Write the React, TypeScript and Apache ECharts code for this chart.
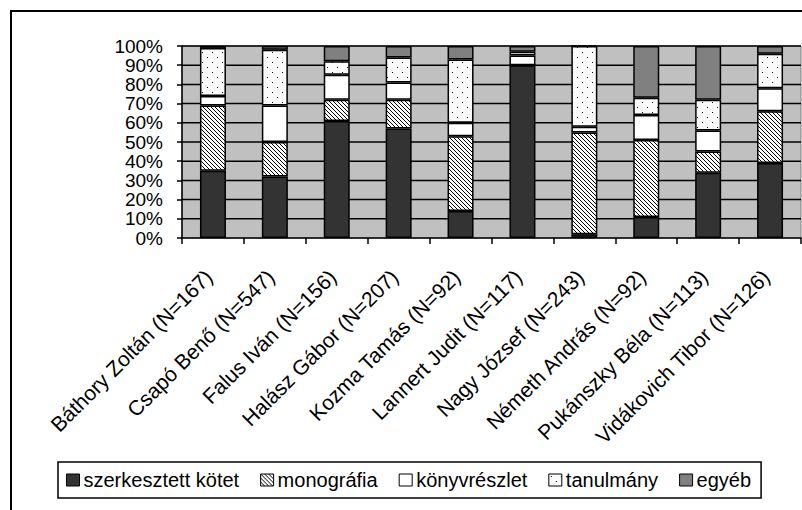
import React, { useEffect, useRef } from "react";
import * as echarts from "echarts";

const categories = [
  "Báthory Zoltán (N=167)",
  "Csapó Benő (N=547)",
  "Falus Iván (N=156)",
  "Halász Gábor (N=207)",
  "Kozma Tamás (N=92)",
  "Lannert Judit (N=117)",
  "Nagy József (N=243)",
  "Németh András (N=92)",
  "Pukánszky Béla (N=113)",
  "Vidákovich Tibor (N=126)",
];

const szerkesztett = [35, 32, 61, 57, 14, 90, 2, 11, 34, 39];
const monografia = [34, 18, 11, 15, 39, 0, 53, 40, 11, 27];
const konyvreszlet = [5, 19, 13, 9, 7, 5, 3, 13, 11, 12];
const tanulmany = [25, 29, 7, 13, 33, 2, 42, 9, 16, 18];
const egyeb = [1, 2, 8, 6, 7, 3, 0, 27, 28, 4];

const yTicks = [0, 10, 20, 30, 40, 50, 60, 70, 80, 90, 100];

const seriesNames = ["szerkesztett kötet", "monográfia", "könyvrészlet", "tanulmány", "egyéb"];

const GRID = { left: 182, top: 46, width: 619, height: 192 };

function hatchCanvas() {
  const c = document.createElement("canvas");
  c.width = 4;
  c.height = 4;
  const g = c.getContext("2d")!;
  g.fillStyle = "#ffffff";
  g.fillRect(0, 0, 4, 4);
  g.fillStyle = "#000000";
  for (let i = 0; i < 4; i++) g.fillRect(i, i, 1, 1);
  return c;
}

function dotCanvas() {
  const c = document.createElement("canvas");
  c.width = 10;
  c.height = 10;
  const g = c.getContext("2d")!;
  g.fillStyle = "#fafafa";
  g.fillRect(0, 0, 10, 10);
  g.fillStyle = "#000000";
  g.fillRect(2, 2, 1, 1);
  g.fillRect(7, 7, 1, 1);
  return c;
}

export default function App() {
  const ref = useRef<HTMLDivElement>(null);
  useEffect(() => {
    const chart = echarts.init(ref.current!, null, { renderer: "svg" });
    const font = "'Liberation Sans', Arial, sans-serif";
    const hatch = hatchCanvas();
    const dots = dotCanvas();
    const defs: { name: string; data: number[]; color: any }[] = [
      { name: seriesNames[0], data: szerkesztett, color: "#333333" },
      {
        name: seriesNames[1],
        data: monografia,
        color: { image: hatch, repeat: "repeat", imageWidth: 4, imageHeight: 4 },
      },
      { name: seriesNames[2], data: konyvreszlet, color: "#ffffff" },
      {
        name: seriesNames[3],
        data: tanulmany,
        color: { image: dots, repeat: "repeat", imageWidth: 10, imageHeight: 10 },
      },
      { name: seriesNames[4], data: egyeb, color: "#808080" },
    ];
    const barSeries = defs.map((d) => ({
      name: d.name,
      type: "bar",
      stack: "total",
      barWidth: 26,
      z: 5,
      data: d.data,
      itemStyle: {
        color: d.color,
        borderColor: "#000",
        borderWidth: 1.5,
      },
    }));
    chart.setOption({
      animation: false,
      textStyle: { fontFamily: font, color: "#000" },
      graphic: [
        {
          type: "rect",
          shape: { x: 11, y: 11, width: 900, height: 600 },
          style: { fill: "none", stroke: "#000", lineWidth: 2 },
          silent: true,
          z: -10,
        },
      ],
      grid: { ...GRID, show: false },
      legend: {
        data: seriesNames,
        left: 58,
        top: 462,
        padding: [8, 10, 8, 8],
        borderColor: "#000",
        borderWidth: 1.5,
        itemWidth: 13,
        itemHeight: 12,
        itemGap: 21,
        icon: "rect",
        itemStyle: { borderColor: "#000", borderWidth: 1 },
        textStyle: { fontFamily: font, fontSize: 20, color: "#000", padding: [0, 0, 0, -1] },
      },
      xAxis: {
        type: "category",
        data: categories,
        z: 8,
        axisLine: { lineStyle: { color: "#000", width: 1.5 } },
        axisTick: { show: true, length: 6, lineStyle: { color: "#000", width: 1.5 } },
        axisLabel: {
          rotate: 45,
          interval: 0,
          margin: 31,
          padding: [0, 6, 0, 0],
          fontSize: 21,
          fontFamily: font,
          color: "#000",
        },
      },
      yAxis: {
        type: "value",
        min: 0,
        max: 100,
        interval: 10,
        z: 8,
        axisLine: { show: true, lineStyle: { color: "#000", width: 1.5 } },
        axisTick: { show: true, length: 5, lineStyle: { color: "#000", width: 1.5 } },
        axisLabel: {
          formatter: "{value}%",
          margin: 19,
          fontSize: 19,
          lineHeight: 17,
          showMinLabel: true,
          showMaxLabel: true,
          hideOverlap: false,
          fontFamily: font,
          color: "#000",
        },
        splitLine: { show: false },
      },
      series: [
        {
          name: "plot-background",
          type: "custom",
          z: 1,
          silent: true,
          data: [[0, 0]],
          renderItem: (params: any) => {
            const cs = params.coordSys;
            return {
              type: "rect",
              shape: { x: cs.x, y: cs.y, width: cs.width, height: cs.height },
              style: { fill: "#c0c0c0", stroke: "#808080", lineWidth: 1 },
            };
          },
        },
        {
          name: "grid-lines",
          type: "custom",
          z: 2,
          silent: true,
          data: yTicks.slice(1).map((v) => [0, v]),
          renderItem: (params: any, api: any) => {
            const cs = params.coordSys;
            const y = api.coord([0, api.value(1)])[1];
            return {
              type: "rect",
              shape: { x: cs.x, y: y - 0.75, width: cs.width, height: 1.5 },
              style: { fill: "#000000" },
            };
          },
        },
        ...barSeries,
      ],
    });
    return () => chart.dispose();
  }, []);
  return (
    <div
      ref={ref}
      style={{ position: "absolute", left: 0, top: 0, width: 802, height: 510 }}
    />
  );
}
